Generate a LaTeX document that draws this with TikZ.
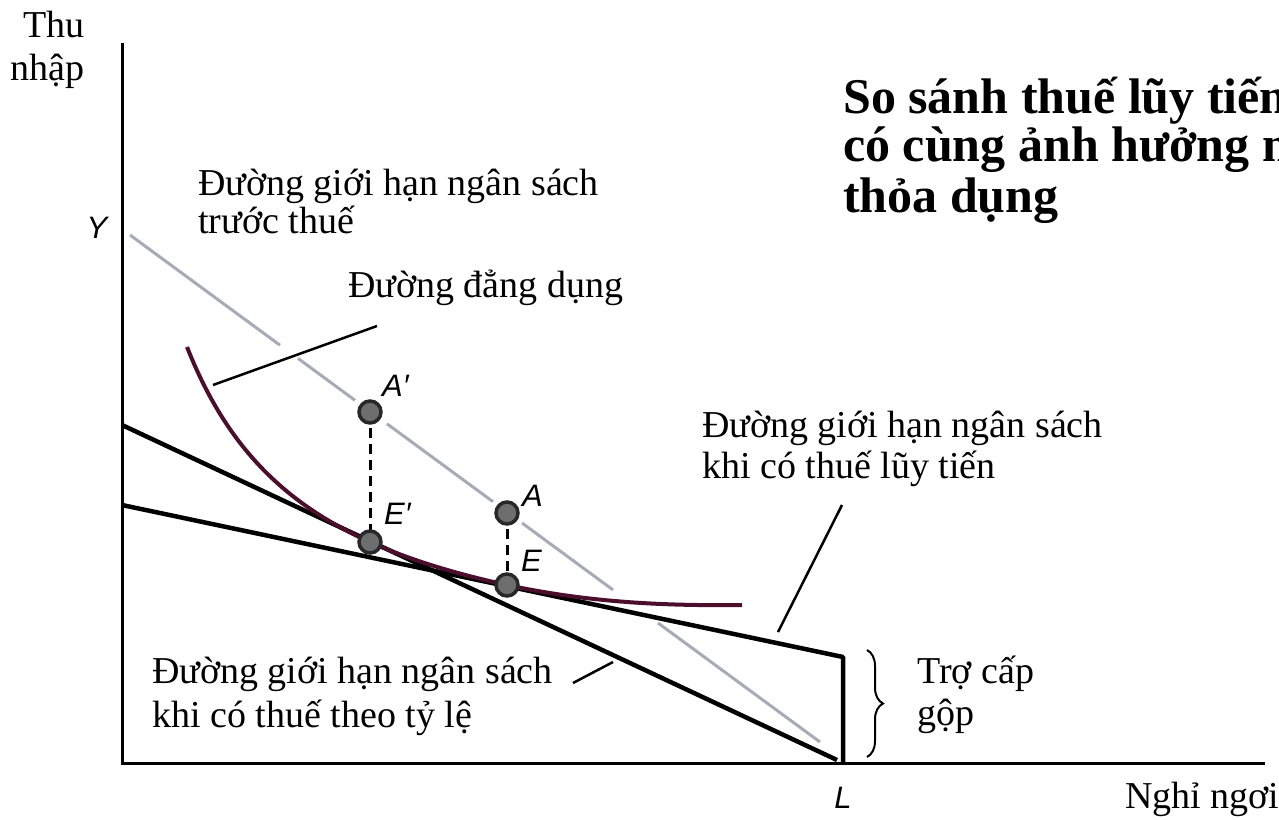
\documentclass[tikz,border=0pt]{standalone}
\usepackage{fontspec}
\setmainfont{Liberation Serif}
\newfontfamily\lblfont{Liberation Sans}
\usetikzlibrary{decorations.pathreplacing}
\definecolor{pregray}{RGB}{165,172,182}
\definecolor{icurvecol}{RGB}{75,15,45}
\definecolor{dotgray}{RGB}{110,110,110}
\definecolor{dotedge}{RGB}{40,40,40}
\begin{document}
\begin{tikzpicture}[x=1pt,y=-1pt,
  txt/.style={inner sep=0pt, anchor=base west, font=\fontsize{38}{44}\selectfont},
  ptlabel/.style={inner sep=0pt, anchor=base west, font=\lblfont\itshape\fontsize{31}{34}\selectfont},
  titletxt/.style={inner sep=0pt, anchor=base west, font=\bfseries\fontsize{50}{50}\selectfont},
  axisline/.style={line width=3pt},
  budget/.style={line width=4.5pt, line join=round},
  preline/.style={line width=3pt, draw=pregray},
  icurve/.style={line width=4pt, draw=icurvecol},
  leader/.style={line width=2.5pt},
  dot/.style={circle, minimum size=22pt, inner sep=0pt, fill=dotgray, draw=dotedge, line width=3.5pt},
  dropline/.style={line width=3pt, dash pattern=on 10pt off 6pt},
  bracestyle/.style={line width=2pt, decorate, decoration={brace, amplitude=16pt}},
]
\useasboundingbox (0,0) rectangle (1279,819);

% coordinates
\coordinate (O) at (122,763);
\coordinate (Ytop) at (122,43);
\coordinate (Xend) at (1265,763);
\coordinate (L) at (843,763);
\coordinate (Pcorner) at (843,657);
\coordinate (Pstart) at (122,505);
\coordinate (Rstart) at (122,425);
\coordinate (Rend) at (837,760);
\coordinate (Ap) at (370,412);
\coordinate (Ep) at (370,542);
\coordinate (A) at (507,513);
\coordinate (E) at (507,585);

% axes
\draw[axisline] (Ytop) -- (O) -- (Xend);

% pre-tax budget line (with gaps)
\draw[preline] (130,235) -- (280,345.2)
  (298,358.4) -- (355,400.3)
  (387,423.8) -- (493,501.7)
  (522,523.0) -- (613,589.9)
  (658,623.0) -- (820,742.0);

% budget lines
\draw[budget] (Rstart) -- (Rend);
\draw[budget] (Pstart) -- (Pcorner) -- (L);

% indifference curve
\draw[icurve] plot[domain=187:507,samples=80] (\x,{684.4-450.74/((\x-53.4)/100)})
  .. controls (587,602) and (660,606) .. (742,605);

% dashed drops
\draw[dropline] (Ap) -- (Ep);
\draw[dropline] (A) -- (E);

% dots
\node[dot] (ApDot) at (Ap) {};
\node[dot] (EpDot) at (Ep) {};
\node[dot] (ADot) at (A) {};
\node[dot] (EDot) at (E) {};

% leaders
\coordinate (idcA) at (213,385);
\coordinate (idcB) at (377,326);
\coordinate (progA) at (842,505);
\coordinate (progB) at (778,632);
\coordinate (propA) at (573,683);
\coordinate (propB) at (613,662);
\draw[leader] (idcA) -- (idcB);
\draw[leader] (progA) -- (progB);
\draw[leader] (propA) -- (propB);

% brace
\coordinate (braceTop) at (867,650);
\coordinate (braceBot) at (867,757);
\draw[bracestyle] (braceTop) -- (braceBot);

% texts
\node[txt, anchor=base east] (thu) at (85,37) {Thu};
\node[txt, anchor=base east] (nhap) at (85,80) {nhập};
\node[txt] (pre1) at (198,195) {Đường giới hạn ngân sách};
\node[txt] (pre2) at (198,233) {trước thuế};
\node[txt] (idc) at (348,297) {Đường đẳng dụng};
\node[txt] (prog1) at (702,437) {Đường giới hạn ngân sách};
\node[txt] (prog2) at (702,478) {khi có thuế lũy tiến};
\node[txt] (prop1) at (152,683) {Đường giới hạn ngân sách};
\node[txt] (prop2) at (152,727) {khi có thuế theo tỷ lệ};
\node[txt] (sub1) at (917,683) {Trợ cấp};
\node[txt] (sub2) at (917,725) {gộp};
\node[txt] (xlab) at (1125,808) {Nghỉ ngơi};

% point labels
\node[ptlabel, anchor=base] (ylab) at (97,238) {Y};
\node[ptlabel, anchor=base] (llab) at (843,808) {L};
\node[ptlabel] (lAp) at (382,396) {A′};
\node[ptlabel] (lEp) at (384,524) {E′};
\node[ptlabel] (lA) at (522,506) {A};
\node[ptlabel] (lE) at (521,571) {E};

% title
\node[titletxt] (t1) at (843,113) {So sánh thuế lũy tiến};
\node[titletxt] (t2) at (843,161) {có cùng ảnh hưởng n};
\node[titletxt] (t3) at (843,212) {thỏa dụng};
\end{tikzpicture}
\end{document}
